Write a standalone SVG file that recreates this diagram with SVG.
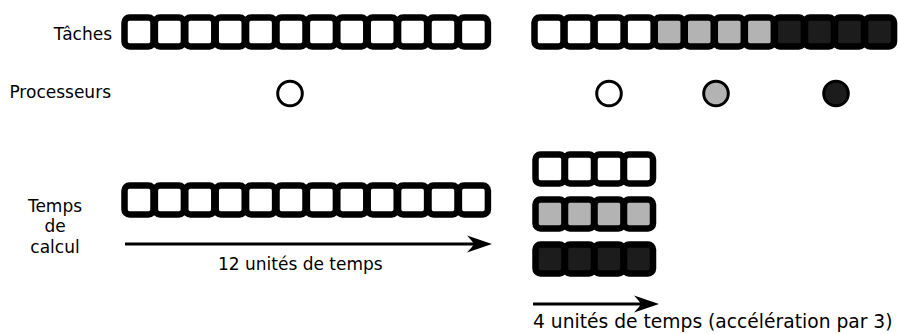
<svg xmlns="http://www.w3.org/2000/svg" width="898" height="334" viewBox="0 0 898 334">
<style>
text{font-family:"DejaVu Sans","Liberation Sans",sans-serif;font-size:17px;fill:#000}
.sq{stroke:#000;stroke-width:6.5;rx:5px;ry:5px}
.w{fill:#fff}.g{fill:#b3b3b3}.d{fill:#1c1c1c}
.cw{fill:#fff;stroke:#000;stroke-width:3}
.cg{fill:#b3b3b3;stroke:#000;stroke-width:3}
.cd{fill:#1c1c1c;stroke:#000;stroke-width:3}
.ar{stroke:#000;stroke-width:3;fill:none}
</style>
<defs>
<marker id="ah" markerUnits="userSpaceOnUse" markerWidth="30" markerHeight="20" viewBox="-8 -10 30 20" refX="0" refY="0" orient="auto">
<path d="M18,0 L-7,-8.5 Q-1,-2 0,0 Q-1,2 -7,8.5 Z" fill="#000"/>
</marker>
</defs>
<g id="labels">
<text x="112" y="40" text-anchor="end">Tâches</text>
<text x="111" y="98" text-anchor="end">Processeurs</text>
<text x="55" y="212" text-anchor="middle">Temps</text>
<text x="55" y="232" text-anchor="middle">de</text>
<text x="55" y="253" text-anchor="middle">calcul</text>
</g>
<g id="taches-seq">
<rect class="sq w" x="124.5" y="17.5" width="29" height="29"/>
<rect class="sq w" x="154.9" y="17.5" width="29" height="29"/>
<rect class="sq w" x="185.3" y="17.5" width="29" height="29"/>
<rect class="sq w" x="215.7" y="17.5" width="29" height="29"/>
<rect class="sq w" x="246.1" y="17.5" width="29" height="29"/>
<rect class="sq w" x="276.5" y="17.5" width="29" height="29"/>
<rect class="sq w" x="306.9" y="17.5" width="29" height="29"/>
<rect class="sq w" x="337.3" y="17.5" width="29" height="29"/>
<rect class="sq w" x="367.7" y="17.5" width="29" height="29"/>
<rect class="sq w" x="398.1" y="17.5" width="29" height="29"/>
<rect class="sq w" x="428.5" y="17.5" width="29" height="29"/>
<rect class="sq w" x="458.9" y="17.5" width="29" height="29"/>
</g>
<g id="taches-par">
<rect class="sq w" x="534.5" y="17.5" width="29" height="29"/>
<rect class="sq w" x="564.55" y="17.5" width="29" height="29"/>
<rect class="sq w" x="594.6" y="17.5" width="29" height="29"/>
<rect class="sq w" x="624.65" y="17.5" width="29" height="29"/>
<rect class="sq g" x="654.7" y="17.5" width="29" height="29"/>
<rect class="sq g" x="684.75" y="17.5" width="29" height="29"/>
<rect class="sq g" x="714.8" y="17.5" width="29" height="29"/>
<rect class="sq g" x="744.85" y="17.5" width="29" height="29"/>
<rect class="sq d" x="774.9" y="17.5" width="29" height="29"/>
<rect class="sq d" x="804.95" y="17.5" width="29" height="29"/>
<rect class="sq d" x="835" y="17.5" width="29" height="29"/>
<rect class="sq d" x="865.05" y="17.5" width="29" height="29"/>
</g>
<g id="processeurs">
<circle class="cw" cx="290" cy="93.5" r="12.3"/>
<circle class="cw" cx="609" cy="93.5" r="12.3"/>
<circle class="cg" cx="716" cy="93.5" r="12.3"/>
<circle class="cd" cx="836" cy="93.5" r="12.3"/>
</g>
<g id="temps-seq">
<rect class="sq w" x="124.5" y="185.5" width="29" height="29"/>
<rect class="sq w" x="154.9" y="185.5" width="29" height="29"/>
<rect class="sq w" x="185.3" y="185.5" width="29" height="29"/>
<rect class="sq w" x="215.7" y="185.5" width="29" height="29"/>
<rect class="sq w" x="246.1" y="185.5" width="29" height="29"/>
<rect class="sq w" x="276.5" y="185.5" width="29" height="29"/>
<rect class="sq w" x="306.9" y="185.5" width="29" height="29"/>
<rect class="sq w" x="337.3" y="185.5" width="29" height="29"/>
<rect class="sq w" x="367.7" y="185.5" width="29" height="29"/>
<rect class="sq w" x="398.1" y="185.5" width="29" height="29"/>
<rect class="sq w" x="428.5" y="185.5" width="29" height="29"/>
<rect class="sq w" x="458.9" y="185.5" width="29" height="29"/>
</g>
<g id="temps-par">
<rect class="sq w" x="535.5" y="154.5" width="29" height="29"/>
<rect class="sq w" x="565" y="154.5" width="29" height="29"/>
<rect class="sq w" x="594.5" y="154.5" width="29" height="29"/>
<rect class="sq w" x="624" y="154.5" width="29" height="29"/>
<rect class="sq g" x="535.5" y="199.5" width="29" height="29"/>
<rect class="sq g" x="565" y="199.5" width="29" height="29"/>
<rect class="sq g" x="594.5" y="199.5" width="29" height="29"/>
<rect class="sq g" x="624" y="199.5" width="29" height="29"/>
<rect class="sq d" x="535.5" y="244.5" width="29" height="29"/>
<rect class="sq d" x="565" y="244.5" width="29" height="29"/>
<rect class="sq d" x="594.5" y="244.5" width="29" height="29"/>
<rect class="sq d" x="624" y="244.5" width="29" height="29"/>
</g>
<g id="connectors">
<line class="ar" x1="125" y1="244" x2="474" y2="244" marker-end="url(#ah)"/>
<line class="ar" x1="533" y1="304" x2="641" y2="304" marker-end="url(#ah)"/>
</g>
<g id="arrow-labels">
<text x="218" y="270">12 unités de temps</text>
<text x="533" y="328" style="font-size:18.7px">4 unités de temps (accélération par 3)</text>
</g>
</svg>
